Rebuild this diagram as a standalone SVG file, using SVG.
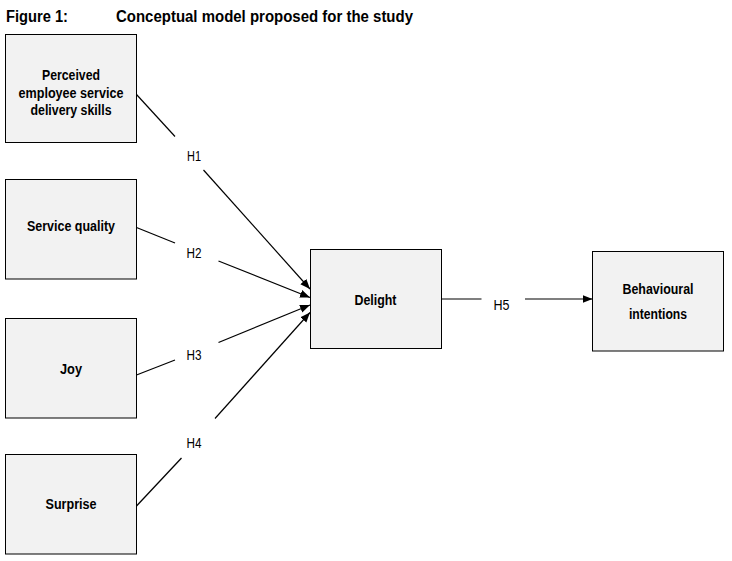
<svg xmlns="http://www.w3.org/2000/svg" width="732" height="561" viewBox="0 0 732 561">
<style>
.box{fill:#f2f2f2;stroke:#000;stroke-width:1}
.lbl{font-family:"Liberation Sans",Arial,sans-serif;font-weight:bold;font-size:14px;fill:#000;text-anchor:middle}
.h{font-family:"Liberation Sans",Arial,sans-serif;font-size:14px;fill:#000;text-anchor:middle}
.ttl{font-family:"Liberation Sans",Arial,sans-serif;font-weight:bold;font-size:16px;fill:#000}
.c{stroke:#000;stroke-width:1.2;fill:none}
</style>
<defs>
<marker id="ah" viewBox="0 0 10 10" refX="10" refY="5" markerWidth="10" markerHeight="10" markerUnits="userSpaceOnUse" orient="auto">
<path d="M0,1 L10,5 L0,9 Z" fill="#000"/>
</marker>
</defs>
<rect width="732" height="561" fill="#fff"/>
<text class="ttl" x="6" y="22" textLength="62" lengthAdjust="spacingAndGlyphs">Figure 1:</text>
<text class="ttl" x="116" y="22" textLength="297" lengthAdjust="spacingAndGlyphs">Conceptual model proposed for the study</text>

<g id="connectors">
<line class="c" x1="136.5" y1="94.5" x2="175" y2="136.5"/>
<line class="c" x1="203.5" y1="170" x2="310" y2="289" marker-end="url(#ah)"/>
<text class="h" x="194" y="161" textLength="14" lengthAdjust="spacingAndGlyphs">H1</text>
<line class="c" x1="136.5" y1="227.5" x2="175" y2="243"/>
<line class="c" x1="218.5" y1="261" x2="310" y2="297.5" marker-end="url(#ah)"/>
<text class="h" x="194" y="258" textLength="15" lengthAdjust="spacingAndGlyphs">H2</text>
<line class="c" x1="136.5" y1="375" x2="175" y2="360"/>
<line class="c" x1="218.5" y1="342.5" x2="310" y2="305" marker-end="url(#ah)"/>
<text class="h" x="194" y="360" textLength="15" lengthAdjust="spacingAndGlyphs">H3</text>
<line class="c" x1="136.5" y1="506" x2="181.5" y2="458"/>
<line class="c" x1="215" y1="418.5" x2="310" y2="312.5" marker-end="url(#ah)"/>
<text class="h" x="194" y="448" textLength="15" lengthAdjust="spacingAndGlyphs">H4</text>
<line class="c" x1="441.5" y1="299" x2="481.5" y2="299"/>
<line class="c" x1="525" y1="299" x2="592.5" y2="299" marker-end="url(#ah)"/>
<text class="h" x="501.5" y="310" textLength="16" lengthAdjust="spacingAndGlyphs">H5</text>
</g>

<g id="n1">
<rect class="box" x="5.5" y="34.5" width="131" height="108"/>
<text class="lbl" x="71" y="80" textLength="58" lengthAdjust="spacingAndGlyphs">Perceived</text>
<text class="lbl" x="71" y="97.5" textLength="105" lengthAdjust="spacingAndGlyphs">employee service</text>
<text class="lbl" x="71" y="115" textLength="81" lengthAdjust="spacingAndGlyphs">delivery skills</text>
</g>
<g id="n2">
<rect class="box" x="5.5" y="179.5" width="131" height="99.5"/>
<text class="lbl" x="71" y="231" textLength="88" lengthAdjust="spacingAndGlyphs">Service quality</text>
</g>
<g id="n3">
<rect class="box" x="5.5" y="318.5" width="131" height="99.5"/>
<text class="lbl" x="71" y="374" textLength="22" lengthAdjust="spacingAndGlyphs">Joy</text>
</g>
<g id="n4">
<rect class="box" x="5.5" y="454.5" width="131" height="99.5"/>
<text class="lbl" x="71" y="509" textLength="51" lengthAdjust="spacingAndGlyphs">Surprise</text>
</g>
<g id="delight">
<rect class="box" x="310.5" y="249.5" width="131" height="99"/>
<text class="lbl" x="375.5" y="305" textLength="42" lengthAdjust="spacingAndGlyphs">Delight</text>
</g>
<g id="bi">
<rect class="box" x="592.5" y="251.5" width="131" height="99.5"/>
<text class="lbl" x="658" y="294" textLength="71" lengthAdjust="spacingAndGlyphs">Behavioural</text>
<text class="lbl" x="658" y="319" textLength="58" lengthAdjust="spacingAndGlyphs">intentions</text>
</g>
</svg>
